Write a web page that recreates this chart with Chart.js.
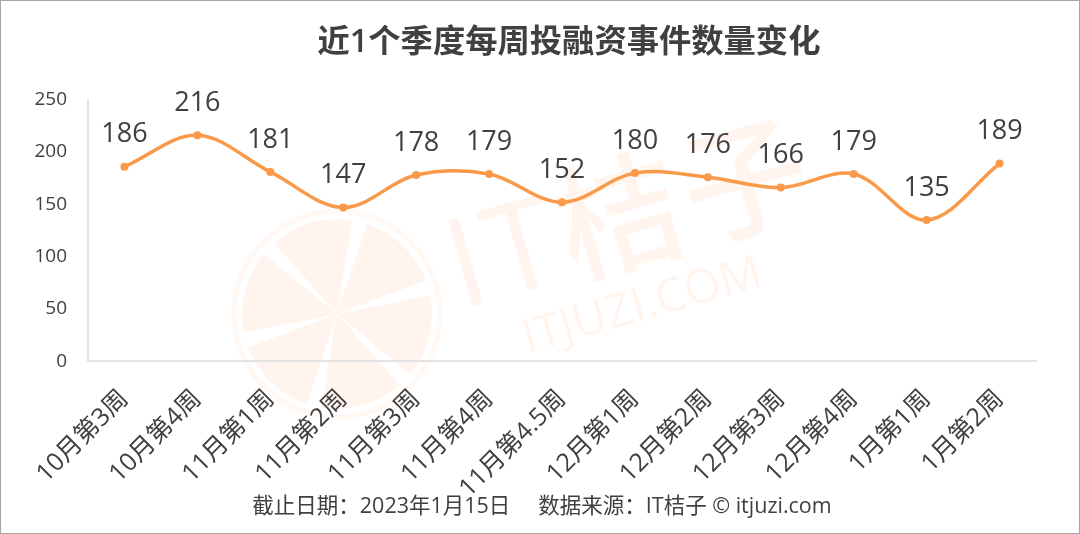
<!DOCTYPE html>
<html>
<head>
<meta charset="utf-8">
<style>
  html, body { margin: 0; padding: 0; background: #fff; }
  #wrap { width: 1080px; height: 534px; position: relative; }
</style>
<script src="https://cdn.jsdelivr.net/npm/chart.js@4"></script>
</head>
<body>
<div id="wrap"><canvas id="chart" width="1080" height="534"></canvas></div>
<script>
var categories = ['10月第3周', '10月第4周', '11月第1周', '11月第2周', '11月第3周', '11月第4周', '11月第4.5周',
                  '12月第1周', '12月第2周', '12月第3周', '12月第4周', '1月第1周', '1月第2周'];
var weeklyEvents = [186, 216, 181, 147, 178, 179, 152, 180, 176, 166, 179, 135, 189];
var yTicks = [0, 50, 100, 150, 200, 250];

var FONT = '"Open Sans", "Noto Sans CJK SC", sans-serif';
var TEXT = '#404040';
var ORANGE = '#F9994A';
var MARK = '#FFF5EE';

// logo and text behind the chart, plus the thin frame of the picture
var backdrop = {
  id: 'backdrop',
  afterLayout: function (chart) {
    // title and footer are not centred on the canvas in the original
    chart.boxes.forEach(function (b) {
      if (b.options && b.options.text) {
        var shift = b.position === 'top' ? 51 : 24;
        b.left += shift;
        b.right += shift;
      }
    });
  },
  beforeDraw: function (chart) {
    var c = chart.ctx;
    c.save();
    c.fillStyle = '#fff';
    c.fillRect(0, 0, 1080, 534);

    // orange slices
    c.fillStyle = MARK;
    c.strokeStyle = '#FFF8F3';
    c.lineWidth = 5;
    c.beginPath();
    c.arc(337, 314, 103, 0, Math.PI * 2);
    c.stroke();
    for (var i = 0; i < 6; i++) {
      var a = (-76 + i * 60) * Math.PI / 180;
      var gap = 4.6 * Math.PI / 180;
      c.beginPath();
      c.moveTo(337, 314);
      c.arc(337, 314, 95, a + gap, a + Math.PI / 3 - gap);
      c.closePath();
      c.fill();
    }

    c.translate(461, 310);
    c.rotate(-16 * Math.PI / 180);
    c.textBaseline = 'alphabetic';
    c.font = '500 126px ' + FONT;
    c.letterSpacing = '5px';
    c.fillText('IT桔子', 0, 0);
    c.letterSpacing = '0px';
    c.font = '47px ' + FONT;
    c.fillText('ITJUZI.COM', 52, 60);
    c.restore();

    c.save();
    c.strokeStyle = '#a6a6a6';
    c.lineWidth = 1;
    c.strokeRect(0.5, 0.5, 1079, 533);
    c.restore();
  }
};

// value above each point
var valueLabels = {
  id: 'valueLabels',
  afterDatasetsDraw: function (chart) {
    var c = chart.ctx;
    var pts = chart.getDatasetMeta(0).data;
    c.save();
    c.font = '27px ' + FONT;
    c.fillStyle = TEXT;
    c.textAlign = 'center';
    c.textBaseline = 'middle';
    pts.forEach(function (p, i) {
      c.fillText(String(weeklyEvents[i]), p.x, p.y - 32);
    });
    c.restore();
  }
};

var chart = new Chart(document.getElementById('chart').getContext('2d'), {
  type: 'line',
  data: {
    labels: categories,
    datasets: [{
      data: weeklyEvents,
      borderColor: ORANGE,
      backgroundColor: ORANGE,
      borderWidth: 3.5,
      pointRadius: 4,
      pointBackgroundColor: ORANGE,
      pointBorderWidth: 0,
      tension: 0.35,
      fill: false
    }]
  },
  options: {
    responsive: false,
    animation: false,
    layout: { padding: { left: 0, right: 44, top: 0, bottom: 0 } },
    plugins: {
      legend: { display: false },
      tooltip: { enabled: false },
      title: {
        display: true,
        text: '近1个季度每周投融资事件数量变化',
        color: TEXT,
        font: { family: FONT, size: 32.3, weight: '600', lineHeight: 1.2 },
        padding: { top: 23, bottom: 38 }
      },
      subtitle: {
        display: true,
        position: 'bottom',
        text: '截止日期：2023年1月15日     数据来源：IT桔子 © itjuzi.com',
        color: TEXT,
        font: { family: FONT, size: 21.5, weight: 'normal', lineHeight: 1.2 },
        padding: { top: 0, bottom: 14 }
      }
    },
    scales: {
      x: {
        offset: true,
        grid: { display: false },
        border: { display: true, color: '#E3E3E3', width: 2 },
        ticks: { color: TEXT, font: { family: FONT, size: 25 }, minRotation: 45, maxRotation: 45, autoSkip: false, padding: 15 },
        afterFit: function (s) { s.height = 133; }
      },
      y: {
        min: 0,
        max: 250,
        grid: { display: false },
        border: { display: true, color: '#E3E3E3', width: 2 },
        afterBuildTicks: function (s) { s.ticks = yTicks.map(function (v) { return { value: v }; }); },
        ticks: { color: TEXT, font: { family: FONT, size: 19 }, padding: 13 },
        afterFit: function (s) { s.width = 88; }
      }
    }
  },
  plugins: [backdrop, valueLabels]
});
</script>
</body>
</html>
